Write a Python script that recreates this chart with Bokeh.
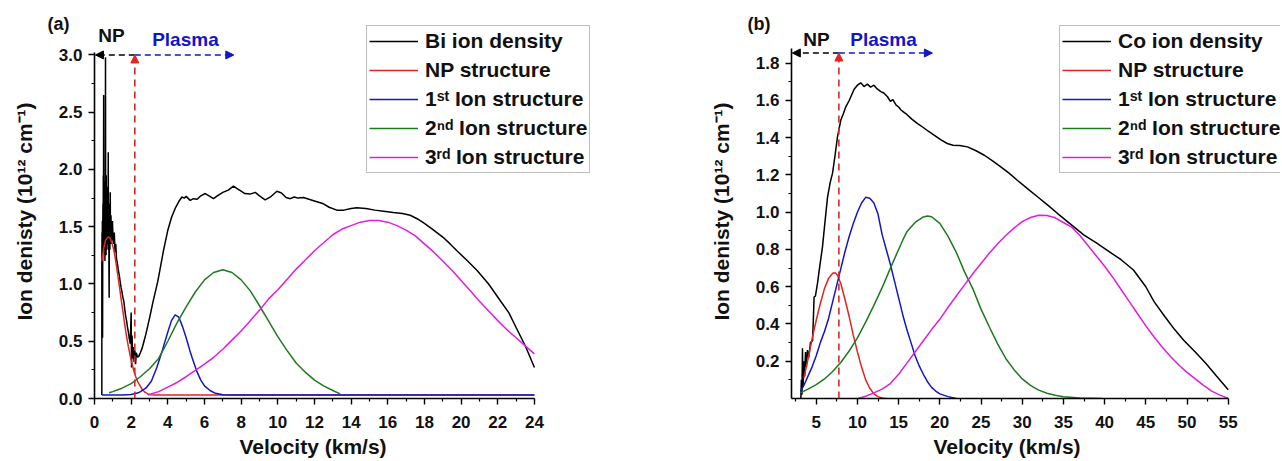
from bokeh.plotting import figure
from bokeh.models import Range1d, FixedTicker, PrintfTickFormatter, Arrow, NormalHead, Label, Title
from bokeh.layouts import row
from bokeh.embed import file_html
from bokeh.resources import INLINE

FONT = "Liberation Sans"

# ---------------- Panel (a): Bi ----------------
bi_v = [0.40, 0.40, 0.41, 0.42, 0.43, 0.44, 0.45, 0.46, 0.47, 0.48, 0.49, 0.50, 0.51, 0.52, 0.53,
        0.54, 0.55, 0.56, 0.57, 0.58, 0.59, 0.60, 0.61, 0.62, 0.63, 0.64, 0.65, 0.66, 0.67, 0.68,
        0.69, 0.70, 0.71, 0.72, 0.73, 0.74, 0.75, 0.76, 0.77, 0.78, 0.79, 0.80, 0.81, 0.82, 0.83,
        0.84, 0.85, 0.86, 0.87, 0.88, 0.89, 0.90, 0.92, 0.94, 0.96, 0.98, 1.00,
        1.04, 1.08, 1.12, 1.16,
        1.20, 1.25, 1.30, 1.35, 1.40, 1.45, 1.50, 1.55, 1.60, 1.65, 1.70, 1.75, 1.80, 1.85, 1.90,
        1.95, 2.00, 2.02, 2.05, 2.08, 2.12, 2.16, 2.20, 2.24, 2.28, 2.35, 2.42, 2.50, 2.60, 2.70,
        2.80, 2.90, 3.00, 3.20, 3.45, 3.75, 4.00, 4.20, 4.40, 4.60, 4.77, 4.90, 5.00, 5.22, 5.40,
        5.60, 5.80, 6.04, 6.25, 6.49, 6.70, 7.00, 7.30, 7.58, 7.80, 8.00, 8.20, 8.49, 8.77, 9.00,
        9.31, 9.60, 9.95, 10.20, 10.45, 10.68, 10.90, 11.10, 11.40, 11.70, 12.00, 12.49, 12.80,
        13.22, 13.60, 14.00, 14.30, 14.80, 15.30, 15.77, 16.30, 16.80, 17.22, 17.60, 18.00, 18.50,
        19.00, 19.40, 19.77, 20.30, 20.86, 21.50, 22.13, 22.60, 23.00, 23.50, 24.00]
bi_d = [0.03, 1.15, 1.45, 1.25, 1.55, 0.53, 1.40, 1.70, 1.30, 1.95, 1.45, 2.65, 1.35, 1.75, 1.30,
        1.90, 1.45, 1.65, 1.20, 1.85, 1.40, 2.98, 1.35, 1.70, 1.25, 1.95, 1.45, 1.60, 1.30, 1.75,
        1.45, 1.65, 1.35, 1.85, 1.50, 1.40, 2.15, 1.45, 1.30, 1.70, 1.10, 0.88, 1.55, 1.40, 1.60,
        1.30, 1.50, 1.80, 1.35, 1.55, 1.40, 1.60, 1.35, 1.50, 1.38, 1.55, 1.45,
        1.35, 1.45, 1.28, 1.35,
        1.22, 1.18, 1.12, 1.08, 1.02, 0.97, 0.93, 0.88, 0.85, 0.78, 0.72, 0.68, 0.62, 0.58, 0.52,
        0.48, 0.75, 0.27, 0.55, 0.35, 0.45, 0.32, 0.42, 0.30, 0.40, 0.36, 0.37, 0.40, 0.44, 0.50,
        0.56, 0.63, 0.70, 0.85, 1.02, 1.28, 1.47, 1.58, 1.66, 1.72, 1.76, 1.75, 1.765, 1.73, 1.745,
        1.74, 1.77, 1.79, 1.77, 1.745, 1.77, 1.80, 1.82, 1.855, 1.83, 1.81, 1.79, 1.785, 1.80, 1.77,
        1.735, 1.76, 1.81, 1.795, 1.755, 1.745, 1.76, 1.75, 1.755, 1.74, 1.725, 1.70, 1.67,
        1.645, 1.645, 1.66, 1.665, 1.66, 1.645, 1.636, 1.625, 1.615, 1.60, 1.57, 1.53, 1.47,
        1.41, 1.35, 1.29, 1.21, 1.12, 1.00, 0.856, 0.75, 0.62, 0.46, 0.27]

np_a_v = [0.40, 0.50, 0.60, 0.70, 0.76, 0.85, 0.95, 1.05, 1.15, 1.25, 1.35, 1.45, 1.55, 1.65, 1.75,
          1.85, 1.95, 2.05, 2.15, 2.25, 2.35, 2.45, 2.60, 2.75, 2.90, 3.05, 3.30, 24.0]
np_a_d = [1.20, 1.31, 1.38, 1.405, 1.41, 1.40, 1.36, 1.30, 1.21, 1.10, 0.99, 0.87, 0.76, 0.645, 0.54,
          0.45, 0.37, 0.30, 0.24, 0.19, 0.15, 0.12, 0.08, 0.055, 0.04, 0.033, 0.03, 0.03]

ion1_a_v = [0.40, 1.50, 2.00, 2.40, 2.80, 3.10, 3.40, 3.70, 4.00, 4.20, 4.40, 4.60, 4.80, 5.00, 5.20,
            5.40, 5.60, 5.80, 6.00, 6.30, 6.60, 7.00, 7.50, 24.0]
ion1_a_d = [0.03, 0.03, 0.035, 0.05, 0.09, 0.15, 0.27, 0.42, 0.58, 0.68, 0.73, 0.71, 0.63, 0.53, 0.42,
            0.32, 0.23, 0.16, 0.11, 0.07, 0.045, 0.033, 0.03, 0.03]

ion2_a_v = [0.80, 1.00, 1.50, 2.00, 2.50, 3.00, 3.50, 4.00, 4.50, 5.00, 5.50, 6.00, 6.50, 7.00, 7.50,
            8.00, 8.50, 9.00, 9.50, 10.00, 10.50, 11.00, 11.50, 12.00, 12.50, 13.00, 13.40]
ion2_a_d = [0.05, 0.06, 0.09, 0.13, 0.19, 0.26, 0.35, 0.50, 0.66, 0.80, 0.93, 1.036, 1.10, 1.125, 1.10,
            1.036, 0.94, 0.81, 0.675, 0.54, 0.42, 0.31, 0.23, 0.16, 0.11, 0.07, 0.04]

ion3_a_v = [2.90, 3.50, 4.00, 4.50, 5.00, 5.50, 6.00, 6.50, 7.00, 7.50, 8.00, 8.50, 9.00, 9.50, 10.00,
            10.50, 11.00, 11.50, 12.00, 12.50, 13.00, 13.50, 14.00, 14.50, 15.00, 15.50, 16.00,
            16.50, 17.00, 17.50, 18.00, 18.50, 19.00, 19.50, 20.00, 20.50, 21.00, 21.50, 22.00,
            22.50, 23.00, 23.50, 24.00]
ion3_a_d = [0.03, 0.06, 0.10, 0.14, 0.19, 0.245, 0.30, 0.36, 0.43, 0.51, 0.59, 0.68, 0.77, 0.87, 0.95,
            1.04, 1.13, 1.21, 1.29, 1.36, 1.43, 1.48, 1.51, 1.54, 1.555, 1.555, 1.54,
            1.51, 1.47, 1.42, 1.35, 1.28, 1.20, 1.12, 1.03, 0.94, 0.85, 0.765, 0.68,
            0.60, 0.53, 0.46, 0.39]

# ---------------- Panel (b): Co ----------------
co_v = [3.13, 3.20, 3.27, 3.33, 3.40, 3.50, 3.60, 3.70, 3.80, 3.94, 4.10, 4.30, 4.55, 4.65, 4.74,
        4.90, 5.15, 5.40, 5.76, 6.00, 6.37, 6.70, 6.98, 7.30, 7.58, 7.98, 8.30, 8.59, 9.00, 9.20,
        9.60, 10.00, 10.40, 10.80, 11.20, 11.60, 12.00, 12.40, 12.84, 13.20, 13.65, 14.00, 14.30,
        14.70, 15.00, 15.27, 15.70, 16.00, 16.60, 17.30, 18.00, 18.60, 19.30, 20.10, 20.90, 21.60,
        22.40, 23.36, 24.40, 25.40, 26.40, 27.40, 28.40, 29.40, 30.60, 31.85, 33.10, 34.30, 35.90,
        37.50, 39.00, 40.50, 42.00, 43.50, 45.00, 46.00, 47.30, 48.50, 49.60, 51.00, 52.30, 53.60,
        55.00]
co_d = [0.00, 0.10, 0.02, 0.27, 0.06, 0.20, 0.12, 0.25, 0.17, 0.26, 0.22, 0.30, 0.31, 0.42, 0.545,
        0.55, 0.617, 0.70, 0.814, 0.92, 1.08, 1.16, 1.21, 1.31, 1.405, 1.494, 1.53, 1.566, 1.60, 1.62,
        1.66, 1.682, 1.695, 1.675, 1.688, 1.672, 1.682, 1.662, 1.648, 1.64, 1.62, 1.595, 1.605,
        1.575, 1.565, 1.55, 1.535, 1.525, 1.50, 1.476, 1.455, 1.435, 1.414, 1.39, 1.369, 1.36,
        1.358, 1.351, 1.33, 1.306, 1.276, 1.244, 1.21, 1.172, 1.128, 1.083, 1.038, 0.993, 0.935,
        0.877, 0.835, 0.79, 0.745, 0.69, 0.60, 0.52, 0.44, 0.37, 0.313, 0.25, 0.188, 0.12,
        0.047]

np_b_v = [3.50, 4.00, 4.50, 5.00, 5.50, 6.00, 6.50, 7.00, 7.30, 7.60, 8.00, 8.50, 9.00, 9.50, 10.00,
          10.50, 11.00, 11.50, 12.00, 12.50, 13.00, 13.50]
np_b_d = [0.11, 0.21, 0.32, 0.42, 0.51, 0.59, 0.645, 0.672, 0.675, 0.66, 0.615, 0.53, 0.44, 0.34, 0.25,
          0.17, 0.10, 0.055, 0.025, 0.01, 0.003, 0.0]

ion1_b_v = [3.10, 3.50, 4.00, 4.50, 5.00, 5.50, 6.00, 6.50, 7.00, 7.50, 8.00, 8.50, 9.00, 9.50, 10.00,
            10.50, 11.00, 11.50, 12.00, 12.50, 13.00, 13.50, 14.00, 14.50, 15.00, 15.50, 16.00,
            16.50, 17.00, 17.50, 18.00, 18.50, 19.00, 19.50, 20.00, 21.00, 22.00]
ion1_b_d = [0.04, 0.07, 0.12, 0.17, 0.23, 0.30, 0.36, 0.43, 0.52, 0.61, 0.70, 0.79, 0.87, 0.94, 1.00,
            1.05, 1.08, 1.075, 1.05, 0.99, 0.88, 0.80, 0.72, 0.63, 0.54, 0.45, 0.37,
            0.30, 0.23, 0.175, 0.13, 0.09, 0.06, 0.04, 0.025, 0.01, 0.0]

ion2_b_v = [3.10, 4.00, 5.00, 6.00, 7.00, 8.00, 9.00, 10.00, 11.00, 12.00, 13.00, 14.00, 15.00, 15.50,
            16.00, 17.00, 18.00, 18.50, 19.00, 20.00, 21.00, 22.00, 23.00, 24.00, 25.00, 26.00,
            27.00, 28.00, 29.00, 30.00, 31.00, 32.00, 33.00, 34.00, 35.00, 37.00, 39.70]
ion2_b_d = [0.03, 0.05, 0.075, 0.105, 0.145, 0.195, 0.255, 0.325, 0.41, 0.50, 0.595, 0.70, 0.80, 0.85,
            0.895, 0.945, 0.975, 0.98, 0.976, 0.94, 0.87, 0.785, 0.68, 0.59, 0.48, 0.385,
            0.295, 0.215, 0.155, 0.105, 0.07, 0.045, 0.028, 0.017, 0.01, 0.003, 0.0]

ion3_b_v = [10.10, 11.00, 12.00, 13.00, 14.00, 15.00, 16.00, 17.00, 18.00, 19.00, 20.00, 21.00, 22.00,
            23.00, 24.00, 25.00, 26.00, 27.00, 28.00, 29.00, 30.00, 31.00, 32.00, 33.00, 34.00,
            35.00, 36.00, 37.00, 38.00, 39.00, 40.00, 41.00, 42.00, 43.00, 44.00, 45.00, 46.00,
            47.00, 48.00, 49.00, 50.00, 51.00, 52.00, 53.00, 54.00, 55.00]
ion3_b_d = [0.0, 0.012, 0.03, 0.05, 0.08, 0.13, 0.19, 0.25, 0.31, 0.37, 0.425, 0.49, 0.55,
            0.61, 0.67, 0.725, 0.78, 0.83, 0.875, 0.915, 0.95, 0.972, 0.984, 0.983, 0.97,
            0.945, 0.92, 0.875, 0.82, 0.765, 0.71, 0.65, 0.585, 0.52, 0.455, 0.39, 0.33,
            0.275, 0.225, 0.18, 0.14, 0.105, 0.07, 0.04, 0.018, 0.0]

legend_a = ["Bi ion density", "NP structure", "1ˢᵗ Ion structure", "2ⁿᵈ Ion structure", "3ʳᵈ Ion structure"]
legend_b = ["Co ion density", "NP structure", "1ˢᵗ Ion structure", "2ⁿᵈ Ion structure", "3ʳᵈ Ion structure"]
colors = ["#000000", "#e02424", "#1414c8", "#1e7a1e", "#e01ee0"]

# axis tick definitions
a_xticks = [0, 2, 4, 6, 8, 10, 12, 14, 16, 18, 20, 22, 24]
a_xminor = [1, 3, 5, 7, 9, 11, 13, 15, 17, 19, 21, 23]
a_yticks = [0.0, 0.5, 1.0, 1.5, 2.0, 2.5, 3.0]
a_yminor = [0.25, 0.75, 1.25, 1.75, 2.25, 2.75]
b_xticks = [5, 10, 15, 20, 25, 30, 35, 40, 45, 50, 55]
b_xminor = [2.5, 7.5, 12.5, 17.5, 22.5, 27.5, 32.5, 37.5, 42.5, 47.5, 52.5]
b_yticks = [0.2, 0.4, 0.6, 0.8, 1.0, 1.2, 1.4, 1.6, 1.8]
b_yminor = [0.1, 0.3, 0.5, 0.7, 0.9, 1.1, 1.3, 1.5, 1.7]

# annotation values
np_edge_a, arrow_y_a, plasma_end_a = 2.2, 3.0, 7.6
np_edge_b, arrow_y_b, plasma_end_b = 7.75, 1.855, 19.1


def make_panel(tag, tag_offset, xr, yr, fw, border_left, border_right, series, labels,
               xt, xm, yt, ym, xbounds, ybounds, legend_loc, xlabel_offset):
    p = figure(title=tag, frame_width=fw, frame_height=374, x_range=xr, y_range=yr,
               output_backend="svg", toolbar_location=None,
               min_border_left=border_left, min_border_right=border_right,
               min_border_top=24, min_border_bottom=0)
    p.title.align = "left"
    p.title.offset = tag_offset
    p.title.vertical_align = "bottom"
    p.title.text_font = FONT
    p.title.text_font_style = "bold"
    p.title.text_font_size = "18px"
    p.title.text_color = "#111111"
    try:
        p.title.standoff = -18
    except Exception:
        p.title.standoff = 0
    p.xgrid.visible = False
    p.ygrid.visible = False
    p.outline_line_color = None
    for (xs, ys), lab, c in zip(series, labels, colors):
        p.line(xs, ys, line_color=c, line_width=1.5, legend_label=lab)
    xa, ya = p.xaxis[0], p.yaxis[0]
    xa.ticker = FixedTicker(ticks=xt, minor_ticks=xm)
    ya.ticker = FixedTicker(ticks=yt, minor_ticks=ym)
    ya.formatter = PrintfTickFormatter(format="%.1f")
    xa.bounds = xbounds
    ya.bounds = ybounds
    for a in (xa, ya):
        a.axis_line_width = 1.6
        a.major_tick_line_width = 1.4
        a.minor_tick_line_width = 1.2
        a.major_tick_out = 6
        a.major_tick_in = 0
        a.minor_tick_out = 3
        a.minor_tick_in = 0
        a.major_label_text_font = FONT
        a.major_label_text_font_style = "bold"
        a.major_label_text_font_size = "17px"
        a.major_label_text_color = "#111111"
        a.major_label_standoff = 6
        a.axis_label_text_font = FONT
        a.axis_label_text_font_style = "bold"
        a.axis_label_text_font_size = "21px"
        a.axis_label_text_color = "#111111"
    xa.major_label_standoff = 11
    ya.axis_label = "Ion denisty (10¹² cm⁻¹)"
    ya.axis_label_standoff = 20
    p.add_layout(Title(text="Velocity (km/s)", align="left", offset=xlabel_offset, standoff=4,
                       text_font=FONT, text_font_style="bold", text_font_size="21px",
                       text_color="#111111"), "below")
    lg = p.legend[0]
    lg.location = legend_loc
    lg.margin = 0
    lg.padding = 2
    lg.spacing = 3
    lg.glyph_width = 49
    lg.glyph_height = 26
    lg.label_height = 26
    lg.label_standoff = 7
    lg.label_text_font = FONT
    lg.label_text_font_style = "bold"
    lg.label_text_font_size = "21px"
    lg.label_text_color = "#111111"
    lg.border_line_color = "#808080"
    lg.border_line_width = 1.3
    return p


def add_marks(p, edge, ay, pend, x0, np_xy, plasma_xy):
    p.add_layout(Arrow(x_start=edge, y_start=ay, x_end=x0, y_end=ay, line_color="black",
                       line_width=1.5, line_dash="6 4",
                       end=NormalHead(size=8, fill_color="black", line_color="black")))
    p.add_layout(Arrow(x_start=edge, y_start=ay, x_end=pend, y_end=ay, line_color="#1414c8",
                       line_width=1.5, line_dash="6 4",
                       end=NormalHead(size=8, fill_color="#1414c8", line_color="#1414c8")))
    p.add_layout(Arrow(x_start=edge, y_start=0, x_end=edge, y_end=ay, line_color="#d42a2a",
                       line_width=1.6, line_dash="7 5",
                       end=NormalHead(size=8, fill_color="#e02424", line_color="#e02424")))
    for (x, y), txt, col in [(np_xy, "NP", "#111111"), (plasma_xy, "Plasma", "#1414c8")]:
        p.add_layout(Label(x=x, y=y, text=txt, text_align="center", text_baseline="middle",
                           text_font=FONT, text_font_style="bold", text_font_size="19px",
                           text_color=col))


pa = make_panel("(a)", -47, Range1d(0, 27.277), Range1d(0, 3.266), 500, 94, 10,
                [(bi_v, bi_d), (np_a_v, np_a_d), (ion1_a_v, ion1_a_d), (ion2_a_v, ion2_a_d),
                 (ion3_a_v, ion3_a_d)], legend_a, a_xticks, a_xminor, a_yticks, a_yminor,
                (0, 24), (0, 3.02), (272, 225), 145)
add_marks(pa, np_edge_a, arrow_y_a, plasma_end_a, 0.05, (0.93, 3.17), (4.96, 3.135))

pb = make_panel("(b)", -44, Range1d(2, 61.345), Range1d(0, 2.008), 489, 187, 0,
                [(co_v, co_d), (np_b_v, np_b_d), (ion1_b_v, ion1_b_d), (ion2_b_v, ion2_b_d),
                 (ion3_b_v, ion3_b_d)], legend_b, b_xticks, b_xminor, b_yticks, b_yminor,
                (2, 55), (0, 1.88), (268, 225), 142)
add_marks(pb, np_edge_b, arrow_y_b, plasma_end_b, 2.1, (5.03, 1.928), (13.17, 1.928))

layout = row(pa, pb)
open("out.html", "w").write(file_html(layout, INLINE))
